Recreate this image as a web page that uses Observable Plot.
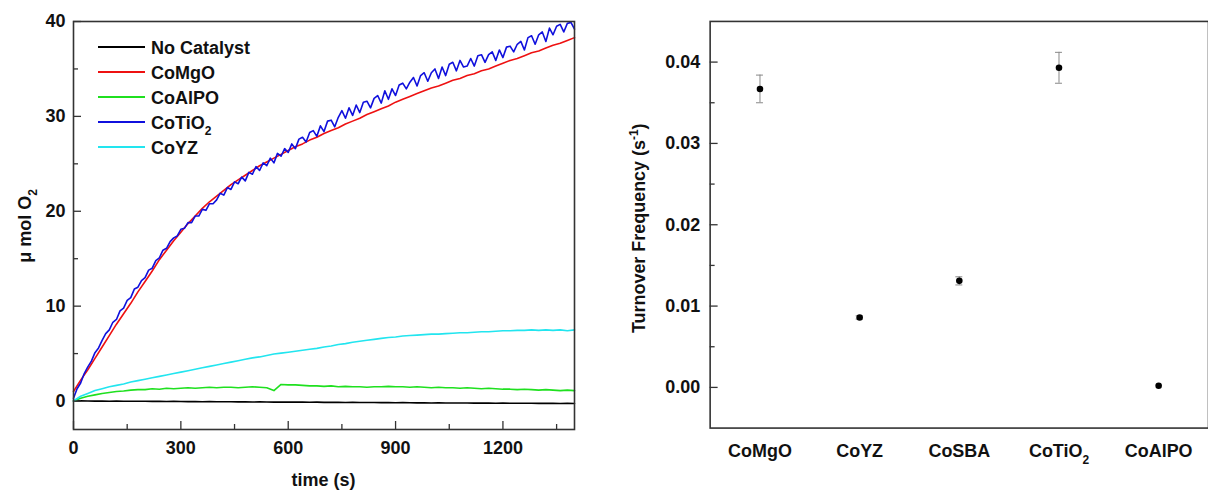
<!DOCTYPE html>
<html><head><meta charset="utf-8">
<script src="https://cdn.jsdelivr.net/npm/d3@7"></script>
<script src="https://cdn.jsdelivr.net/npm/@observablehq/plot@0.6"></script>
<style>
html,body{margin:0;padding:0;background:#fff;}
#wrap{position:relative;width:1208px;height:491px;overflow:hidden;font-family:"Liberation Sans",Arial,sans-serif;}
#left{position:absolute;left:0;top:0;}
#right{position:absolute;left:600px;top:0;}
</style></head><body><div id="wrap"><div id="left"></div><div id="right"></div></div>
<script>
// ---------- Left panel data: μmol O2 vs time (s) ----------
const time = [0,20,40,60,80,100,120,140,160,180,
  200,220,240,260,280,300,320,340,360,380,
  400,420,440,460,480,500,520,540,560,580,
  600,620,640,660,680,700,720,740,760,780,
  800,820,840,860,880,900,920,940,960,980,
  1000,1020,1040,1060,1080,1100,1120,1140,1160,1180,
  1200,1220,1240,1260,1280,1300,1320,1340,1360,1380,
  1400];
const timeFine = [0,10,20,30,40,50,60,70,80,90,100,110,120,130,140,150,160,170,180,190,
  200,210,220,230,240,250,260,270,280,290,300,310,320,330,340,350,360,370,380,390,
  400,410,420,430,440,450,460,470,480,490,500,510,520,530,540,550,560,570,580,590,
  600,610,620,630,640,650,660,670,680,690,700,710,720,730,740,750,760,770,780,790,
  800,810,820,830,840,850,860,870,880,890,900,910,920,930,940,950,960,970,980,990,
  1000,1010,1020,1030,1040,1050,1060,1070,1080,1090,1100,1110,1120,1130,1140,1150,1160,1170,1180,1190,
  1200,1210,1220,1230,1240,1250,1260,1270,1280,1290,1300,1310,1320,1330,1340,1350,1360,1370,1380,1390,
  1400];
const noCatalyst = [0.00,0.02,0.00,-0.01,0.00,-0.02,-0.01,-0.02,-0.03,-0.02,
  -0.03,-0.04,-0.03,-0.05,-0.04,-0.05,-0.06,-0.05,-0.07,-0.06,
  -0.08,-0.07,-0.08,-0.09,-0.08,-0.10,-0.09,-0.10,-0.11,-0.10,
  -0.12,-0.11,-0.12,-0.13,-0.12,-0.14,-0.13,-0.14,-0.15,-0.14,
  -0.16,-0.15,-0.16,-0.17,-0.16,-0.18,-0.17,-0.18,-0.19,-0.18,
  -0.20,-0.19,-0.20,-0.21,-0.20,-0.21,-0.22,-0.21,-0.22,-0.23,
  -0.22,-0.23,-0.24,-0.23,-0.24,-0.25,-0.24,-0.25,-0.26,-0.25,
  -0.26];
const coMgO = [1.0,2.2,3.3,4.5,5.7,6.9,8.1,9.2,10.3,11.5,
  12.6,13.7,14.9,15.9,16.9,17.8,18.7,19.5,20.3,21.0,
  21.6,22.2,22.8,23.3,23.8,24.3,24.8,25.2,25.6,26.0,
  26.4,26.8,27.1,27.5,27.8,28.2,28.5,28.8,29.2,29.5,
  29.8,30.2,30.5,30.8,31.1,31.5,31.8,32.1,32.4,32.7,
  33.0,33.2,33.5,33.8,34.0,34.3,34.5,34.8,35.0,35.3,
  35.6,35.9,36.1,36.4,36.7,36.9,37.2,37.5,37.7,38.0,
  38.3];
const coAlPO = [0.0,0.3,0.5,0.65,0.8,0.9,1.0,1.05,1.15,1.2,
  1.2,1.3,1.25,1.35,1.3,1.35,1.4,1.35,1.4,1.45,
  1.4,1.45,1.45,1.4,1.45,1.5,1.45,1.4,1.1,1.75,
  1.7,1.7,1.65,1.6,1.6,1.55,1.6,1.5,1.55,1.5,
  1.5,1.45,1.5,1.5,1.55,1.5,1.5,1.45,1.5,1.45,
  1.4,1.45,1.4,1.4,1.35,1.4,1.35,1.3,1.35,1.3,
  1.25,1.25,1.2,1.25,1.2,1.15,1.2,1.15,1.1,1.15,
  1.1];
// CoTiO2 is sampled on the finer grid (timeFine) because of its noisy trace
const coTiO2 = [0.3,1.3,1.9,2.9,3.6,4.2,5.1,5.6,6.4,7.1,
  7.5,8.3,8.6,9.5,9.8,10.6,10.9,11.8,12.0,12.7,
  13.0,13.8,14.0,14.8,15.1,15.9,16.1,16.8,17.2,17.4,
  18.1,18.2,18.8,18.8,19.5,19.5,20.2,20.1,20.8,20.8,
  21.2,21.9,21.7,22.5,22.3,23.1,22.9,23.6,23.2,24.1,
  23.9,24.7,24.3,25.1,24.8,25.6,25.1,26.1,25.8,26.6,
  26.2,27.1,26.6,27.6,27.8,27.3,28.3,28.5,27.9,29.0,
  28.4,29.5,29.6,28.9,29.9,30.6,29.8,30.9,30.1,31.2,
  30.4,31.5,31.6,30.9,31.9,32.2,31.4,32.7,31.8,32.9,
  32.2,33.3,33.5,32.9,33.6,34.1,33.2,34.3,34.6,33.7,
  34.6,35.0,34.0,35.2,34.3,35.5,35.7,34.8,35.9,35.2,
  35.3,36.1,35.3,36.4,36.5,35.7,36.5,36.8,35.9,37.0,
  36.2,37.3,37.4,36.8,37.6,37.9,37.0,38.3,38.5,37.6,
  38.6,38.9,37.9,39.3,38.6,39.5,39.7,38.9,39.8,39.9,
  39.2];
const coYZ = [0.0,0.5,0.8,1.1,1.3,1.5,1.65,1.8,2.0,2.15,
  2.3,2.45,2.6,2.75,2.9,3.05,3.2,3.35,3.5,3.65,
  3.8,3.95,4.1,4.25,4.4,4.55,4.65,4.8,4.95,5.05,
  5.15,5.25,5.35,5.45,5.55,5.7,5.8,5.95,6.05,6.2,
  6.3,6.4,6.5,6.6,6.7,6.75,6.85,6.9,6.95,7.0,
  7.05,7.05,7.1,7.15,7.2,7.2,7.25,7.3,7.3,7.35,
  7.4,7.4,7.45,7.45,7.5,7.45,7.5,7.45,7.5,7.4,
  7.5];
const seriesNames = ["No Catalyst","CoMgO","CoAlPO","CoTiO2","CoYZ"];
const seriesColors = ["#000000","#ee1111","#1fe01f","#1010dd","#22e5ef"];
const timeTicks = [0,300,600,900,1200];
const timeMinor = [150,450,750,1050,1350];
const o2Ticks = [0,10,20,30,40];
const o2Minor = [5,15,25,35];

// ---------- Right panel data: turnover frequency ----------
const categories = ["CoMgO","CoYZ","CoSBA","CoTiO2","CoAlPO"];
const tof = [0.0367,0.0086,0.0131,0.0393,0.0002];
const tofErr = [0.0017,0.0002,0.0005,0.0019,0];
const tofTicks = [0,0.01,0.02,0.03,0.04];
const tofMinor = [0.005,0.015,0.025,0.035];

const FONT = '"Liberation Sans", Arial, sans-serif';
const H = 491, mT = 21, mB = 62;
const fh = H - mT - mB;

// ---------- Left plot ----------
const seriesValues = [noCatalyst, coMgO, coAlPO, coTiO2, coYZ];
const seriesTimes = [time, time, time, timeFine, time];
const rows = [];
seriesNames.forEach((name, i) => seriesTimes[i].forEach((t, j) => rows.push({series: name, t, v: seriesValues[i][j]})));
const W1 = 600, mL1 = 73, mR1 = 26, fw1 = W1 - mL1 - mR1;
const axisStroke = "#333";
const left = Plot.plot({
  width: W1, height: H, marginLeft: mL1, marginRight: mR1, marginTop: mT, marginBottom: mB,
  style: {fontFamily: FONT, fontSize: "18px", fontWeight: "bold", color: "#111", background: "transparent", overflow: "visible"},
  x: {domain: [0, 1400]},
  y: {domain: [-3, 40]},
  color: {domain: seriesNames, range: seriesColors},
  marks: [
    Plot.lineY(rows, {x: "t", y: "v", stroke: "series", z: "series", strokeWidth: 1.6}),
    Plot.tickX(timeTicks, {x: d => d, insetTop: fh - 8, stroke: axisStroke, strokeWidth: 1.3}),
    Plot.tickX(timeMinor, {x: d => d, insetTop: fh - 5, stroke: axisStroke, strokeWidth: 1.3}),
    Plot.tickY(o2Ticks, {y: d => d, insetRight: fw1 - 8, stroke: axisStroke, strokeWidth: 1.3}),
    Plot.tickY(o2Minor, {y: d => d, insetRight: fw1 - 5, stroke: axisStroke, strokeWidth: 1.3}),
    Plot.axisX({ticks: timeTicks, tickFormat: d => String(d), tickSize: 0, tickPadding: 12, label: null}),
    Plot.axisY({ticks: o2Ticks, tickSize: 0, tickPadding: 8, label: null}),
    Plot.frame({stroke: axisStroke, strokeWidth: 1.6})
  ]
});
document.getElementById("left").appendChild(left);

const ls = d3.select(left);
// y title
const yt = ls.append("text").attr("transform", "translate(31,226) rotate(-90)")
  .attr("text-anchor", "middle").attr("font-size", 18).attr("font-weight", "bold").attr("fill", "#111")
  .attr("font-family", FONT);
yt.append("tspan").text("μ mol O");
yt.append("tspan").attr("font-size", 12).attr("dy", 6).text("2");
// x title
ls.append("text").attr("x", (mL1 + W1 - mR1) / 2).attr("y", 486).attr("text-anchor", "middle")
  .attr("font-size", 18).attr("font-weight", "bold").attr("fill", "#111").attr("font-family", FONT).text("time (s)");
// legend
const lg = ls.append("g");
seriesNames.forEach((name, i) => {
  const y = 47 + 25 * i;
  lg.append("line").attr("x1", 98).attr("x2", 145).attr("y1", y).attr("y2", y)
    .attr("stroke", seriesColors[i]).attr("stroke-width", 1.8);
  const t = lg.append("text").attr("x", 151).attr("y", y + 6.5).attr("font-size", 18)
    .attr("text-anchor", "start")
    .attr("font-weight", "bold").attr("fill", "#111").attr("font-family", FONT);
  if (name === "CoTiO2") {
    t.append("tspan").text("CoTiO");
    t.append("tspan").attr("font-size", 12).attr("dy", 6).text("2");
  } else t.text(name);
});

// ---------- Right plot ----------
const pts = categories.map((c, i) => ({cat: c, v: tof[i], lo: tof[i] - tofErr[i], hi: tof[i] + tofErr[i], err: tofErr[i]}));
const errPts = pts.filter(d => d.err > 0);
const W2 = 610, mL2 = 110, mR2 = 0, fw2 = W2 - mL2 - mR2;
const right = Plot.plot({
  width: W2, height: H, marginLeft: mL2, marginRight: mR2, marginTop: mT, marginBottom: mB,
  style: {fontFamily: FONT, fontSize: "18px", fontWeight: "bold", color: "#111", background: "transparent", overflow: "visible"},
  x: {type: "band", domain: categories, padding: 0},
  y: {domain: [-0.005, 0.045]},
  marks: [
    Plot.ruleX(errPts, {x: "cat", y1: "lo", y2: "hi", stroke: "#888", strokeWidth: 1}),
    Plot.tickY(errPts, {x: "cat", y: "lo", insetLeft: 46.5, insetRight: 46.5, stroke: "#888", strokeWidth: 1}),
    Plot.tickY(errPts, {x: "cat", y: "hi", insetLeft: 46.5, insetRight: 46.5, stroke: "#888", strokeWidth: 1}),
    Plot.dot(pts, {x: "cat", y: "v", r: 3.3, fill: "#000", stroke: null}),
    Plot.tickY(tofTicks, {y: d => d, insetRight: fw2 - 8, stroke: axisStroke, strokeWidth: 1.3}),
    Plot.tickY(tofMinor, {y: d => d, insetRight: fw2 - 5, stroke: axisStroke, strokeWidth: 1.3}),
    Plot.axisX({tickSize: 0, tickPadding: 16, label: null}),
    Plot.axisY({ticks: tofTicks, tickFormat: d3.format(".2f"), tickSize: 0, tickPadding: 10, label: null}),
    Plot.frame({stroke: axisStroke, strokeWidth: 1.6})
  ]
});
document.getElementById("right").appendChild(right);
const rs = d3.select(right);
rs.selectAll("text").filter(function() { return this.textContent === "CoTiO2"; }).each(function() {
  const el = d3.select(this);
  el.text("");
  el.append("tspan").text("CoTiO");
  el.append("tspan").attr("font-size", 12).attr("dy", 7).text("2");
});
const rt = rs.append("text").attr("transform", "translate(45,229) rotate(-90)")
  .attr("text-anchor", "middle").attr("font-size", 18).attr("font-weight", "bold").attr("fill", "#111")
  .attr("font-family", FONT);
rt.append("tspan").text("Turnover Frequency (s");
rt.append("tspan").attr("font-size", 12).attr("dy", -7).text("-1");
rt.append("tspan").attr("dy", 7).text(")");
</script></body></html>
